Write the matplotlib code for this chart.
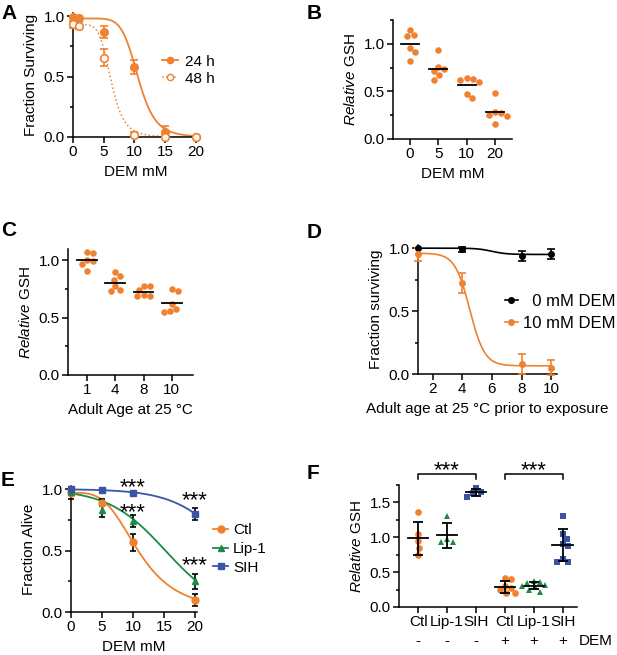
import numpy as np
import matplotlib.pyplot as plt
from matplotlib.ticker import MultipleLocator

plt.rcParams['font.family'] = ['Liberation Sans', 'DejaVu Sans']
plt.rcParams['mathtext.fontset'] = 'custom'
plt.rcParams['mathtext.rm'] = 'Liberation Sans'
plt.rcParams['mathtext.it'] = 'Liberation Sans:italic'

ORANGE = '#EF8230'
GREEN = '#1E8A45'
BLUE = '#3A55A6'

# ---- data ----
# A: survival vs DEM
a_dem = [0, 1, 5, 10, 15, 20]
a_24h = [0.99, 0.985, 0.87, 0.58, 0.04, 0.0]
a_24h_err = [0.01, 0.01, 0.05, 0.06, 0.05, 0.0]
a_48h = [0.93, 0.92, 0.655, 0.02, 0.0, 0.0]
a_48h_err = [0.03, 0.03, 0.07, 0.02, 0.0, 0.0]
a_fit_24h = (0.98, 0.0, 10.6, 7.6)   # hill: top, bottom, ec50, slope
a_fit_48h = (0.93, 0.0, 6.2, 6.0)

# B: GSH vs DEM
b_labels = ['0', '5', '10', '20']
b_vals = [[1.14, 1.09, 1.08, 0.955, 0.91, 0.82],
          [0.93, 0.76, 0.74, 0.71, 0.67, 0.625],
          [0.64, 0.635, 0.625, 0.6, 0.47, 0.434],
          [0.48, 0.28, 0.27, 0.25, 0.24, 0.16]]

# C: GSH vs adult age
c_labels = ['1', '4', '8', '10']
c_vals = [[1.072, 1.067, 1.0, 0.995, 0.97, 0.904],
          [0.9, 0.86, 0.83, 0.774, 0.74, 0.733],
          [0.78, 0.78, 0.74, 0.696, 0.687, 0.69],
          [0.754, 0.73, 0.623, 0.58, 0.557, 0.55]]

# D: survival vs adult age
d_age = [1, 4, 8, 10]
d_0mm = [1.0, 0.99, 0.94, 0.95]
d_0mm_err = [0.0, 0.02, 0.04, 0.04]
d_10mm = [0.95, 0.72, 0.08, 0.05]
d_10mm_err = [0.05, 0.08, 0.08, 0.06]
d_fit_0mm = (1.0, 0.95, 6.0, 0.5)    # logistic: top, bottom, x50, scale
d_fit_10mm = (0.96, 0.065, 4.5, 0.5)

# E: survival with Lip-1 / SIH
e_dem = [0, 5, 10, 20]
e_ctl = [0.97, 0.89, 0.567, 0.095]
e_ctl_err = [0.05, 0.03, 0.07, 0.05]
e_lip = [0.975, 0.83, 0.74, 0.25]
e_lip_err = [0.02, 0.055, 0.05, 0.06]
e_sih = [1.0, 0.99, 0.967, 0.80]
e_sih_err = [0.01, 0.01, 0.01, 0.05]
e_fit_ctl = (0.97, 0.0, 11.0, 3.5)   # hill
e_fit_lip = (1.0, 0.0, 15.2, 4.6)    # logistic
e_fit_sih = (1.0, 0.0, 26.2, 4.5)    # logistic
e_stars = [(10, 1.07), (10, 0.87), (20, 0.97), (20, 0.44)]

# F: GSH with Lip-1 / SIH, +/- DEM
f_labels = ['Ctl', 'Lip-1', 'SIH', 'Ctl', 'Lip-1', 'SIH']
f_dem = ['-', '-', '-', '+', '+', '+']
f_vals = [[1.36, 1.05, 0.94, 0.85, 0.74],
          [1.30, 0.97, 0.93, 0.93],
          [1.71, 1.65, 1.63, 1.58],
          [0.41, 0.40, 0.30, 0.27, 0.24, 0.20, 0.20],
          [0.37, 0.36, 0.35, 0.31, 0.30, 0.28, 0.25, 0.22],
          [1.31, 1.04, 0.98, 0.91, 0.87, 0.69, 0.65, 0.65]]
f_groups = [(0, 2), (3, 5)]


def hill(x, top, bottom, ec50, h):
    return bottom + (top - bottom) / (1 + (x / ec50) ** h)


def logistic(x, top, bottom, x50, s):
    return bottom + (top - bottom) / (1 + np.exp((x - x50) / s))


W, H = 617, 655
fig = plt.figure(figsize=(W / 100, H / 100), dpi=100)


def add_ax(l, t, r, b):
    ax = fig.add_axes([l / W, 1 - b / H, (r - l) / W, (b - t) / H])
    for s in ['top', 'right']:
        ax.spines[s].set_visible(False)
    for s in ['left', 'bottom']:
        ax.spines[s].set_linewidth(1.1)
    ax.tick_params(width=1.1, length=4, labelsize=11, pad=2)
    ax.tick_params(which='minor', width=1.1, length=2.5)
    ax.yaxis.set_minor_locator(MultipleLocator(0.25))
    return ax


def swarm(ax, xc, ys, d):
    # simple beeswarm, d = dot diameter in pixels
    placed = []
    xs = np.zeros(len(ys))
    for i in np.argsort(ys)[::-1]:
        px, py = ax.transData.transform((xc, ys[i]))
        cands = [0.0]
        for qx, qy in placed:
            dy = py - qy
            if abs(dy) < d:
                dx = np.sqrt(d * d - dy * dy)
                cands += [qx - px + dx, qx - px - dx]
        cands.sort(key=abs)
        for c in cands:
            ok = all((px + c - qx) ** 2 + (py - qy) ** 2 >= d * d * 0.99 for qx, qy in placed)
            if ok:
                break
        placed.append((px + c, py))
        xs[i] = ax.transData.inverted().transform((px + c, py))[0]
    return xs


def err_plot(ax, x, y, e, color, capsize):
    x, y, e = np.array(x), np.array(y), np.array(e)
    m = e > 0
    ax.errorbar(x[m], y[m], yerr=e[m], fmt='none', ecolor=color, elinewidth=1.2,
                capsize=capsize, capthick=1.2, clip_on=False, zorder=3)


# ---- A ----
ax = add_ax(73, 13, 199, 137)
ax.set_xlim(0, 20.5)
ax.set_ylim(0, 1.025)
xs = np.linspace(0, 20, 300)
ax.plot(xs, hill(xs, *a_fit_24h), color=ORANGE, lw=1.3)
ax.plot(xs, hill(xs, *a_fit_48h), color=ORANGE, lw=1.1, ls=':')
err_plot(ax, a_dem, a_24h, a_24h_err, ORANGE, 3)
err_plot(ax, a_dem, a_48h, a_48h_err, ORANGE, 3)
ax.plot(a_dem, a_24h, 'o', color=ORANGE, ms=5.5, clip_on=False, zorder=4)
ax.plot(a_dem, a_48h, 'o', mfc='white', mec=ORANGE, mew=1.2, ms=5.5, clip_on=False, zorder=4)
ax.plot([], [], 'o-', color=ORANGE, ms=4.5, lw=1.3, label='24 h')
ax.plot([], [], 'o:', color=ORANGE, mfc='white', ms=4.5, lw=1.1, label='48 h')
ax.legend(loc='center left', bbox_to_anchor=(0.71, 0.54), frameon=False, fontsize=11,
          handlelength=1.0, handletextpad=0.45, labelspacing=0.2, borderpad=0, borderaxespad=0)
ax.set_xticks([0, 5, 10, 15, 20])
ax.set_yticks([0, 0.5, 1.0])
ax.set_xlabel('DEM mM', fontsize=11)
ax.set_ylabel('Fraction Surviving', fontsize=11)

# ---- B ----
ax = add_ax(393, 20, 512, 139)
ax.set_xlim(-0.6, 3.6)
ax.set_ylim(0, 1.25)
for i, v in enumerate(b_vals):
    ax.plot(swarm(ax, i, v, 6.4), v, 'o', color=ORANGE, ms=4.7, mew=0, zorder=2)
    ax.plot([i - 0.32, i + 0.32], [np.mean(v)] * 2, color='k', lw=1.3, zorder=3)
ax.set_xticks(range(len(b_labels)))
ax.set_xticklabels(b_labels)
ax.set_yticks([0, 0.5, 1.0])
ax.set_xlabel('DEM mM', fontsize=11)
ax.set_ylabel(r'$\mathit{Relative}$ GSH', fontsize=11)

# ---- C ----
ax = add_ax(68, 249, 193, 375)
ax.set_xlim(-0.67, 3.75)
ax.set_ylim(0, 1.1)
for i, v in enumerate(c_vals):
    ax.plot(swarm(ax, i, v, 6.4), v, 'o', color=ORANGE, ms=4.7, mew=0, zorder=2)
    ax.plot([i - 0.35, i + 0.35], [np.mean(v)] * 2, color='k', lw=1.3, zorder=3)
ax.set_xticks(range(len(c_labels)))
ax.set_xticklabels(c_labels)
ax.set_yticks([0, 0.5, 1.0])
ax.set_xlabel('Adult Age at 25 °C', fontsize=11)
ax.set_ylabel(r'$\mathit{Relative}$ GSH', fontsize=11)

# ---- D ----
ax = add_ax(418, 245, 557, 374)
ax.set_xlim(1, 10.4)
ax.set_ylim(0, 1.025)
xs = np.linspace(1, 10, 300)
ax.plot(xs, logistic(xs, *d_fit_0mm), color='k', lw=1.2)
ax.plot(xs, logistic(xs, *d_fit_10mm), color=ORANGE, lw=1.2)
err_plot(ax, d_age, d_0mm, d_0mm_err, 'k', 3)
err_plot(ax, d_age, d_10mm, d_10mm_err, ORANGE, 3)
ax.plot(d_age, d_0mm, 'o', color='k', ms=4, clip_on=False, zorder=4)
ax.plot(d_age, d_10mm, 'o', color=ORANGE, ms=4, clip_on=False, zorder=4)
ax.plot([], [], 'o-', color='k', ms=4, lw=1.2, label='  0 mM DEM')
ax.plot([], [], 'o-', color=ORANGE, ms=4, lw=1.2, label='10 mM DEM')
ax.legend(loc='center left', bbox_to_anchor=(0.626, 0.477), frameon=False, fontsize=12,
          handlelength=0.75, handletextpad=0.3, labelspacing=0.45, borderpad=0, borderaxespad=0)
ax.set_xticks([2, 4, 6, 8, 10])
ax.set_yticks([0, 0.5, 1.0])
ax.set_xlabel('Adult age at 25 °C prior to exposure', fontsize=11)
ax.set_ylabel('Fraction surviving', fontsize=11)

# ---- E ----
ax = add_ax(71, 486, 197, 612)
ax.set_xlim(0, 20.3)
ax.set_ylim(0, 1.025)
xs = np.linspace(0, 20, 300)
ax.plot(xs, hill(xs, *e_fit_ctl), color=ORANGE, lw=1.3)
ax.plot(xs, logistic(xs, *e_fit_lip), color=GREEN, lw=1.3)
ax.plot(xs, logistic(xs, *e_fit_sih), color=BLUE, lw=1.3)
err_plot(ax, e_dem, e_ctl, e_ctl_err, 'k', 2.5)
err_plot(ax, e_dem, e_lip, e_lip_err, 'k', 2.5)
err_plot(ax, e_dem, e_sih, e_sih_err, 'k', 2.5)
ax.plot(e_dem, e_ctl, 'o', color=ORANGE, ms=5, clip_on=False, zorder=4)
ax.plot(e_dem, e_lip, '^', color=GREEN, ms=5, clip_on=False, zorder=4)
ax.plot(e_dem, e_sih, 's', color=BLUE, ms=4.5, clip_on=False, zorder=4)
ax.plot([], [], 'o-', color=ORANGE, ms=5, lw=1.3, label='Ctl')
ax.plot([], [], '^-', color=GREEN, ms=5, lw=1.3, label='Lip-1')
ax.plot([], [], 's-', color=BLUE, ms=4.5, lw=1.3, label='SIH')
ax.legend(loc='center left', bbox_to_anchor=(1.127, 0.5), frameon=False, fontsize=11,
          handlelength=1.0, handletextpad=0.3, labelspacing=0.3, borderpad=0, borderaxespad=0)
for sx, sy in e_stars:
    ax.annotate('***', (sx, sy), xytext=(0, -9.5), textcoords='offset points',
                ha='center', va='baseline', fontsize=16, annotation_clip=False)
ax.set_xticks([0, 5, 10, 15, 20])
ax.set_yticks([0, 0.5, 1.0])
ax.set_xlabel('DEM mM', fontsize=11)
ax.set_ylabel('Fraction Alive', fontsize=11)

# ---- F ----
ax = add_ax(399, 485, 577, 607)
ax.set_xlim(-0.66, 5.5)
ax.set_ylim(0, 1.75)
f_markers = ['o', '^', 's', 'o', '^', 's']
f_colors = [ORANGE, GREEN, BLUE, ORANGE, GREEN, BLUE]
for i, v in enumerate(f_vals):
    ax.plot(swarm(ax, i, v, 6.4), v, f_markers[i], color=f_colors[i], ms=4.8, mew=0, zorder=2)
    m, sd = np.mean(v), np.std(v, ddof=1)
    ax.errorbar(i, m, yerr=sd, fmt='none', ecolor='k', elinewidth=1.3, capsize=3.6,
                capthick=1.3, zorder=3)
    ax.plot([i - 0.35, i + 0.35], [m, m], color='k', lw=1.3, zorder=3)
for g0, g1 in f_groups:
    ax.plot([g0, g0, g1, g1], [1.84, 1.91, 1.91, 1.84], color='k', lw=1.1, clip_on=False)
    ax.annotate('***', ((g0 + g1) / 2, 2.06), xytext=(0, -9.5), textcoords='offset points',
                ha='center', va='baseline', fontsize=16, annotation_clip=False)
ax.set_xticks(range(len(f_labels)))
ax.set_xticklabels(f_labels)
ax.set_yticks([0, 0.5, 1.0, 1.5])
tr = ax.get_xaxis_transform()
for i, s in enumerate(f_dem):
    ax.text(i, -0.28, s, transform=tr, ha='center', va='center', fontsize=11)
ax.text(5.55, -0.28, 'DEM', transform=tr, ha='left', va='center', fontsize=11)
ax.set_ylabel(r'$\mathit{Relative}$ GSH', fontsize=11)

# panel letters
for lab, x, y in [('A', 1, 19), ('B', 307, 19), ('C', 1, 236), ('D', 307, 238),
                  ('E', 1, 486), ('F', 307, 479)]:
    fig.text(x / W, 1 - y / H, lab, fontsize=15, fontweight='bold', va='baseline')

fig.savefig('out.png', dpi=100)
